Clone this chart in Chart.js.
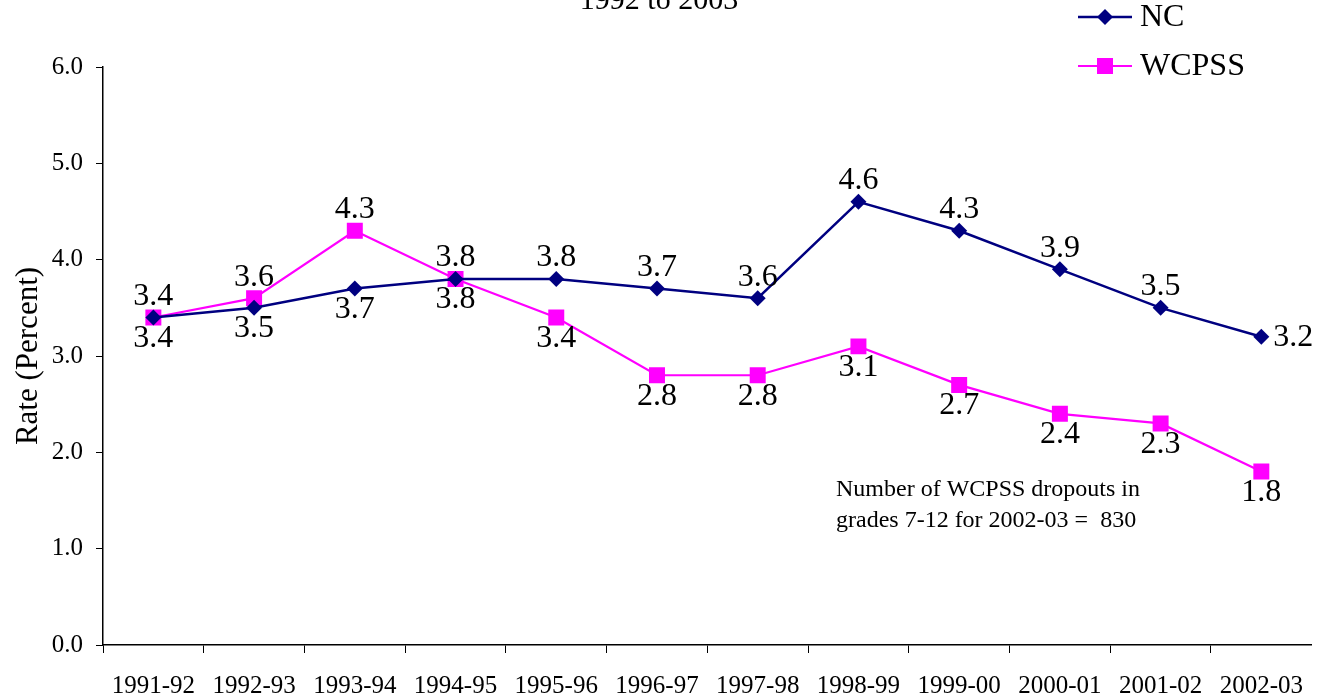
<!DOCTYPE html>
<html>
<head>
<meta charset="utf-8">
<script src="https://cdn.jsdelivr.net/npm/chart.js@4/dist/chart.umd.min.js"></script>
<style>
  html, body { margin: 0; padding: 0; background: #fff; }
  #wrap { width: 1323px; height: 698px; position: relative; }
</style>
</head>
<body>
<div id="wrap"><canvas id="dropouts"></canvas></div>
<script>
const years = ['1991-92', '1992-93', '1993-94', '1994-95', '1995-96', '1996-97',
  '1997-98', '1998-99', '1999-00', '2000-01', '2001-02', '2002-03'];
const ncRates = [3.4, 3.5, 3.7, 3.8, 3.8, 3.7, 3.6, 4.6, 4.3, 3.9, 3.5, 3.2];
const wcpssRates = [3.4, 3.6, 4.3, 3.8, 3.4, 2.8, 2.8, 3.1, 2.7, 2.4, 2.3, 1.8];
const yTicks = [0, 1, 2, 3, 4, 5, 6];

// where each value label sits relative to its point
const ncLabelPos = ['below', 'below', 'below', 'below', 'above', 'above', 'above', 'above', 'above', 'above', 'above', 'right'];
const wcpssLabelPos = ['above', 'above', 'above', 'above', 'below', 'below', 'below', 'below', 'below', 'below', 'below', 'below'];

const titleText = '1992 to 2003';
const noteLines = ['Number of WCPSS dropouts in', 'grades 7-12 for 2002-03 =  830'];

const SERIF = '"Liberation Serif", "Times New Roman", serif';

// value labels next to each point
const pointLabels = {
  id: 'pointLabels',
  afterDatasetsDraw(chart) {
    const ctx = chart.ctx;
    ctx.save();
    ctx.font = '32px ' + SERIF;
    ctx.fillStyle = '#000';
    chart.data.datasets.forEach((ds, i) => {
      const meta = chart.getDatasetMeta(i);
      meta.data.forEach((pt, j) => {
        const pos = ds.labelPos[j];
        const txt = ds.data[j].toFixed(1);
        ctx.textBaseline = 'middle';
        if (pos === 'right') {
          ctx.textAlign = 'left';
          ctx.fillText(txt, pt.x + 12, pt.y + 1);
        } else {
          ctx.textAlign = 'center';
          ctx.fillText(txt, pt.x, pos === 'above' ? pt.y - 21 : pt.y + 21);
        }
      });
    });
    ctx.restore();
  }
};

// title (mostly cut off at the top), legend and the note
const extras = {
  id: 'extras',
  afterDraw(chart) {
    const ctx = chart.ctx;
    ctx.save();
    ctx.fillStyle = '#000';
    ctx.font = '30px ' + SERIF;
    ctx.textAlign = 'center';
    ctx.textBaseline = 'alphabetic';
    ctx.fillText(titleText, 659, 9);

    // legend
    chart.data.datasets.forEach((ds, i) => {
      const y = 17 + i * 49;
      ctx.strokeStyle = ds.borderColor;
      ctx.lineWidth = ds.borderWidth;
      ctx.beginPath();
      ctx.moveTo(1078, y);
      ctx.lineTo(1132, y);
      ctx.stroke();
      ctx.fillStyle = ds.pointBackgroundColor;
      if (ds.pointStyle === 'rectRot') {
        ctx.beginPath();
        ctx.moveTo(1105, y - 8);
        ctx.lineTo(1113, y);
        ctx.lineTo(1105, y + 8);
        ctx.lineTo(1097, y);
        ctx.closePath();
        ctx.fill();
      } else {
        ctx.fillRect(1097, y - 8, 16, 16);
      }
      ctx.fillStyle = '#000';
      ctx.font = '32px ' + SERIF;
      ctx.textAlign = 'left';
      ctx.textBaseline = 'middle';
      ctx.fillText(ds.label, 1140, y + 1);
    });

    ctx.font = '24px ' + SERIF;
    ctx.textAlign = 'left';
    ctx.textBaseline = 'middle';
    noteLines.forEach((line, k) => {
      ctx.fillText(line, 836, 490 + k * 31);
    });
    ctx.restore();
  }
};

new Chart(document.getElementById('dropouts'), {
  type: 'line',
  data: {
    labels: years,
    datasets: [
      {
        label: 'NC',
        data: ncRates,
        labelPos: ncLabelPos,
        borderColor: '#000080',
        backgroundColor: '#000080',
        pointBackgroundColor: '#000080',
        pointBorderColor: '#000080',
        borderWidth: 2.5,
        pointStyle: 'rectRot',
        pointRadius: 8,
        pointHoverRadius: 8,
        pointBorderWidth: 0,
        tension: 0,
        fill: false,
      },
      {
        label: 'WCPSS',
        data: wcpssRates,
        labelPos: wcpssLabelPos,
        borderColor: '#FF00FF',
        backgroundColor: '#FF00FF',
        pointBackgroundColor: '#FF00FF',
        pointBorderColor: '#FF00FF',
        borderWidth: 2.2,
        pointStyle: 'rect',
        pointRadius: 11.3,
        pointHoverRadius: 11.3,
        pointBorderWidth: 0,
        tension: 0,
        fill: false,
      },
    ],
  },
  options: {
    responsive: true,
    maintainAspectRatio: false,
    animation: false,
    events: [],
    layout: { padding: { top: 67, right: 7, left: 0, bottom: 0 } },
    plugins: {
      legend: { display: false },
      tooltip: { enabled: false },
      title: { display: false },
    },
    scales: {
      x: {
        offset: true,
        grid: {
          offset: true,
          drawOnChartArea: false,
          drawTicks: true,
          tickLength: 8,
          // no mark at the far right end
          color: (c) => (c.type === 'tick' ? '#000' : 'rgba(0,0,0,0)'),
          lineWidth: 1,
        },
        border: { display: true, color: '#000', width: 1.5 },
        ticks: {
          color: '#000',
          font: { family: SERIF, size: 25 },
          padding: 18,
          maxRotation: 0,
          autoSkip: false,
        },
        afterFit(scale) {
          scale.height = 53;
          scale.paddingLeft = 0;
          scale.paddingRight = 0;
        },
      },
      y: {
        min: 0,
        max: 6,
        afterBuildTicks(scale) { scale.ticks = yTicks.map(v => ({ value: v })); },
        grid: {
          drawOnChartArea: false,
          drawTicks: true,
          tickLength: 7,
          color: '#000',
          lineWidth: 1,
        },
        border: { display: true, color: '#000', width: 1.5 },
        ticks: {
          color: '#000',
          font: { family: SERIF, size: 25 },
          padding: 13,
          callback: (v) => Number(v).toFixed(1),
        },
        title: {
          display: true,
          text: 'Rate (Percent)',
          color: '#000',
          font: { family: SERIF, size: 31 },
          padding: { top: 10, bottom: 10 },
        },
        afterFit(scale) { scale.width = 103; },
      },
    },
  },
  plugins: [pointLabels, extras],
});
</script>
</body>
</html>
